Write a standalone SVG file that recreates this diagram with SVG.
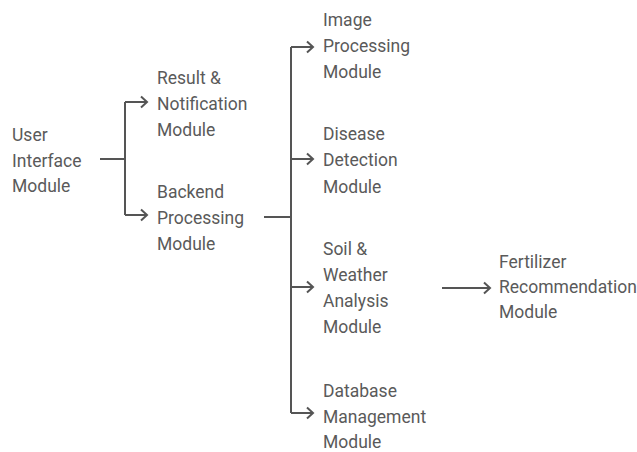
<svg xmlns="http://www.w3.org/2000/svg" width="637" height="452" viewBox="0 0 637 452">
<defs>
<style>
text{font-family:Roboto,"Liberation Sans",sans-serif;font-size:17.5px;fill:#5a5a5a}
.c{fill:none;stroke:#555;stroke-width:2}
</style>
<marker id="ah" markerUnits="userSpaceOnUse" markerWidth="14" markerHeight="14" viewBox="-8 -7 10 14" refX="0" refY="0" orient="auto">
<polyline points="-6,-5.5 0,0 -6,5.5" fill="none" stroke="#555" stroke-width="2"/>
</marker>
</defs>
<rect width="637" height="452" fill="#fff"/>
<g id="connectors">
<path class="c" d="M100,159 H125"/>
<path class="c" d="M125,102 V215"/>
<path class="c" d="M125,102 H147" marker-end="url(#ah)"/>
<path class="c" d="M125,215 H147" marker-end="url(#ah)"/>
<path class="c" d="M264,217 H291"/>
<path class="c" d="M291,47 V413"/>
<path class="c" d="M291,47 H313" marker-end="url(#ah)"/>
<path class="c" d="M291,159 H313" marker-end="url(#ah)"/>
<path class="c" d="M291,287 H313" marker-end="url(#ah)"/>
<path class="c" d="M291,413 H313" marker-end="url(#ah)"/>
<path class="c" d="M442,288 H490" marker-end="url(#ah)"/>
</g>
<g id="ui"><text x="12" y="141">User</text><text x="12" y="167">Interface</text><text x="12" y="192">Module</text></g>
<g id="result"><text x="157" y="84">Result &amp;</text><text x="157" y="110">Notification</text><text x="157" y="136">Module</text></g>
<g id="backend"><text x="157" y="198">Backend</text><text x="157" y="224">Processing</text><text x="157" y="250">Module</text></g>
<g id="image"><text x="323" y="26">Image</text><text x="323" y="52">Processing</text><text x="323" y="78">Module</text></g>
<g id="disease"><text x="323" y="140">Disease</text><text x="323" y="166">Detection</text><text x="323" y="193">Module</text></g>
<g id="soil"><text x="323" y="255">Soil &amp;</text><text x="323" y="281">Weather</text><text x="323" y="307">Analysis</text><text x="323" y="333">Module</text></g>
<g id="database"><text x="323" y="397">Database</text><text x="323" y="423">Management</text><text x="323" y="448">Module</text></g>
<g id="fertilizer"><text x="499" y="268">Fertilizer</text><text x="499" y="293">Recommendation</text><text x="499" y="318">Module</text></g>
</svg>
